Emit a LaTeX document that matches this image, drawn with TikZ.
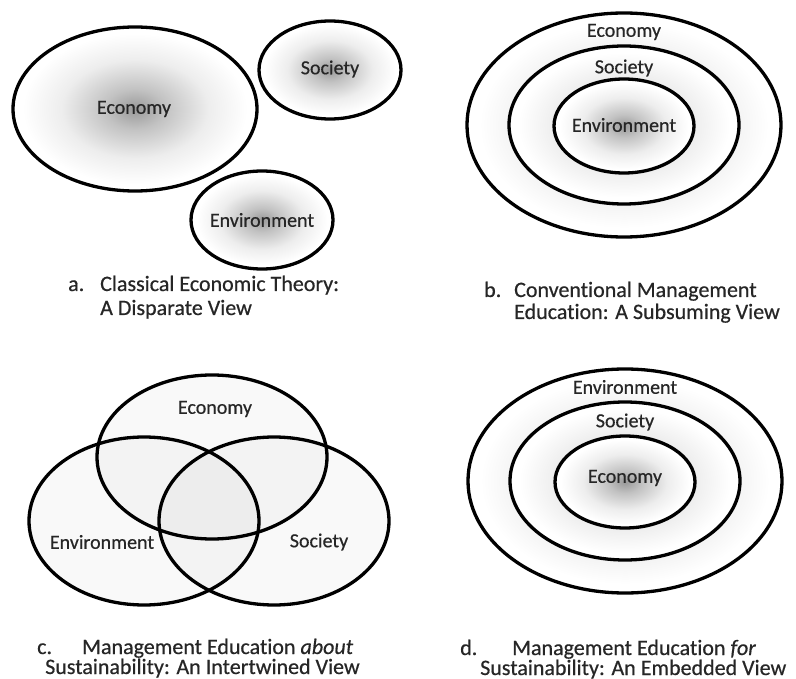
\documentclass[tikz,border=0pt]{standalone}
\usepackage{fontspec}
\setmainfont{Carlito}[Ligatures=NoCommon, FakeBold=0.5]
\definecolor{shC}{gray}{0.60}
\definecolor{shM}{gray}{0.76}
\definecolor{shL}{gray}{0.93}
\definecolor{txt}{gray}{0.15}
\pgfdeclareradialshading{softrad}{\pgfpoint{0bp}{0bp}}{color(0bp)=(shC); color(6bp)=(shM); color(15bp)=(shL); color(23bp)=(white); color(50bp)=(white)}
\tikzset{
  ring/.style={draw=black, line width=3.3pt, shading=softrad},
  venn/.style={draw=black, line width=3.3pt, fill=black, fill opacity=0.022, draw opacity=1},
  lbl/.style={font=\fontsize{20}{24}\selectfont, text=txt, inner sep=0pt},
  captxt/.style={font=\fontsize{22}{26}\selectfont, text=txt, inner sep=0pt, anchor=base west}
}
\begin{document}
\begin{tikzpicture}[x=1pt,y=-1pt]
\useasboundingbox[fill=white] (0,0) rectangle (796,679);
% ---- panel a
\path[ring] (135,109) ellipse (122 and 82);
\path[ring] (330,70) ellipse (71 and 49);
\path[ring] (262,220) ellipse (71 and 49);
\node[lbl] (aeco) at (134,109) {Economy};
\node[lbl] (asoc) at (330,69) {Society};
\node[lbl] (aenv) at (262,220) {Environment};
\node[captxt] (alet) at (68,291) {a.};
\node[captxt] (acap1) at (100,291) {Classical Economic Theory:};
\node[captxt] (acap2) at (100,315) {A Disparate View};
% ---- panel b
\path[ring] (624,125) ellipse (157 and 112);
\path[ring] (624,125) ellipse (115 and 79);
\path[ring] (624,126) ellipse (70 and 47);
\node[lbl] (beco) at (624,32) {Economy};
\node[lbl] (bsoc) at (624,68) {Society};
\node[lbl] (benv) at (624,125) {Environment};
\node[captxt] (blet) at (484,297) {b.};
\node[captxt] (bcap1) at (514,297) {Conventional Management};
\node[captxt] (bcap2) at (514,319) {Education: A Subsuming View};
% ---- panel c
\path[venn] (212,457) ellipse (115 and 82);
\path[venn] (144,521) ellipse (115 and 84);
\path[venn] (274,521) ellipse (115 and 84);
\node[lbl] (ceco) at (215,409) {Economy};
\node[lbl] (cenv) at (102,542) {Environment};
\node[lbl] (csoc) at (319,542) {Society};
\node[captxt] (clet) at (37,654) {c.};
\node[captxt] (ccap1) at (82,654) {Management Education \emph{about}};
\node[captxt] (ccap2) at (45,674) {Sustainability: An Intertwined View};
% ---- panel d
\path[ring] (625,481) ellipse (157 and 112);
\path[ring] (625,481) ellipse (115 and 79);
\path[ring] (625,482) ellipse (70 and 46);
\node[lbl] (denv) at (625,387) {Environment};
\node[lbl] (dsoc) at (625,422) {Society};
\node[lbl] (deco) at (625,478) {Economy};
\node[captxt] (dlet) at (460,655) {d.};
\node[captxt] (dcap1) at (512,655) {Management Education \emph{for}};
\node[captxt] (dcap2) at (480,675) {Sustainability: An Embedded View};
\end{tikzpicture}
\end{document}
